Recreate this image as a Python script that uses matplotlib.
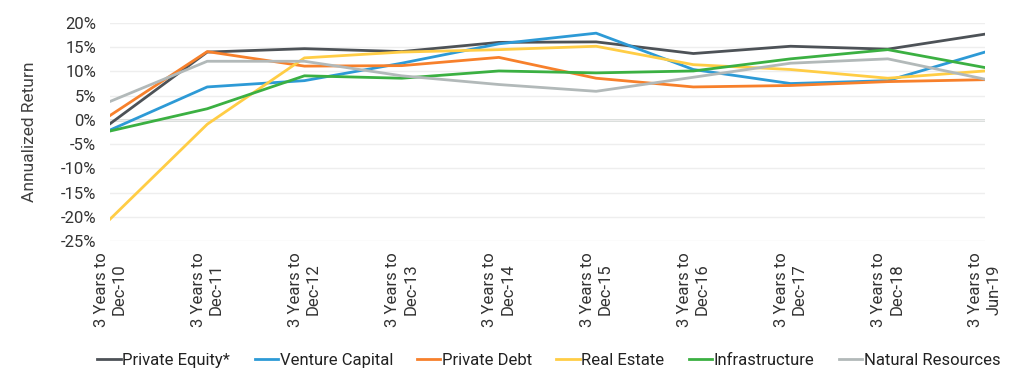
import matplotlib
matplotlib.use("Agg")
import matplotlib.pyplot as plt
from matplotlib.ticker import FuncFormatter

plt.rcParams['font.family'] = ['Roboto', 'DejaVu Sans']

categories = ["3 Years to\nDec-10", "3 Years to\nDec-11", "3 Years to\nDec-12",
              "3 Years to\nDec-13", "3 Years to\nDec-14", "3 Years to\nDec-15",
              "3 Years to\nDec-16", "3 Years to\nDec-17", "3 Years to\nDec-18",
              "3 Years to\nJun-19"]

private_equity = [-0.8, 14.0, 14.7, 14.1, 16.0, 16.1, 13.7, 15.2, 14.6, 17.7]
venture_capital = [-2.1, 6.8, 8.1, 11.7, 15.7, 17.9, 10.4, 7.5, 8.1, 14.0]
private_debt = [0.9, 14.1, 11.1, 11.2, 12.9, 8.6, 6.8, 7.1, 7.9, 8.3]
real_estate = [-20.5, -0.9, 12.8, 14.0, 14.5, 15.2, 11.4, 10.4, 8.6, 10.1]
infrastructure = [-2.3, 2.3, 9.1, 8.6, 10.1, 9.7, 10.1, 12.6, 14.5, 10.8]
natural_resources = [3.8, 12.1, 12.1, 9.1, 7.3, 5.9, 8.8, 11.7, 12.6, 8.4]

series_names = ["Private Equity*", "Venture Capital", "Private Debt",
                "Real Estate", "Infrastructure", "Natural Resources"]
series_values = [private_equity, venture_capital, private_debt,
                 real_estate, infrastructure, natural_resources]
colors = ["#4d5257", "#2d9ad6", "#f7802b", "#ffcd45", "#3bb042", "#b2b9b9"]

y_ticks = [-25, -20, -15, -10, -5, 0, 5, 10, 15, 20]

fig = plt.figure(figsize=(10.22, 3.77), dpi=100)
ax = fig.add_axes([110 / 1022, 1 - 241 / 377, 875 / 1022, 218 / 377])

x = list(range(len(categories)))
for name, vals, c in zip(series_names, series_values, colors):
    ax.plot(x, vals, color=c, lw=2, label=name, zorder=3)

ax.set_xlim(0, len(categories) - 1)
ax.set_ylim(-25, 20)
ax.set_yticks(y_ticks)
ax.yaxis.set_major_formatter(FuncFormatter(lambda v, p: f"{int(v)}%"))
ax.grid(axis='y', color='#eeeeee', lw=1, zorder=0)
ax.axhline(0, color='#d3d8d6', lw=2, zorder=1)
for s in ax.spines.values():
    s.set_visible(False)
ax.tick_params(axis='both', length=0, labelsize=12, colors='#333333')
ax.tick_params(axis='y', pad=10)
ax.tick_params(axis='x', pad=8)
ax.set_xticks(x)
ax.set_xticklabels(categories, rotation=90, ha='center', va='top',
                   multialignment='center', linespacing=1.25)
ax.set_ylabel("Annualized Return", fontsize=12.5, color='#404040', labelpad=17)

fig.legend(loc='lower center', bbox_to_anchor=(0.537, -0.015), ncol=6,
           frameon=False, fontsize=12, handlelength=1.4, handletextpad=0.1,
           columnspacing=1.45, labelcolor='#222222')

fig.savefig("out.png", dpi=100)
